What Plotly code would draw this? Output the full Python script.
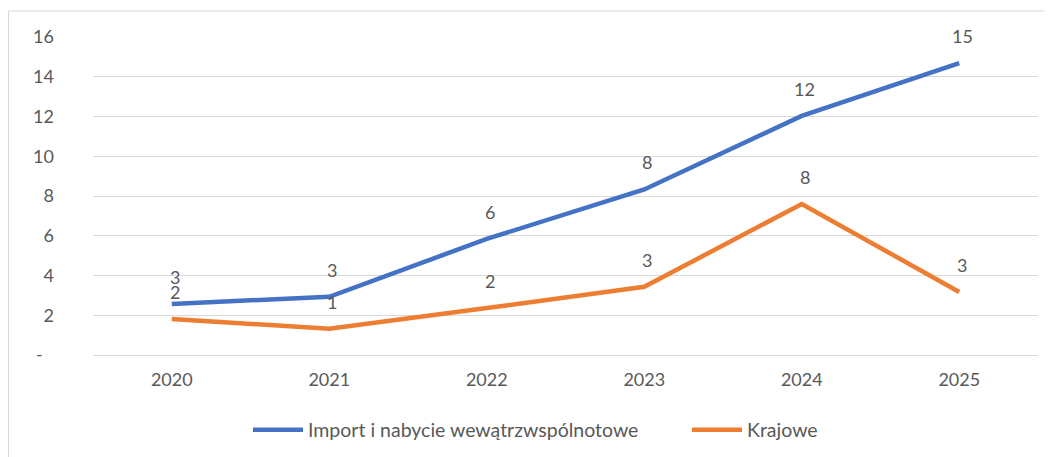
import plotly.graph_objects as go

years = ["2020", "2021", "2022", "2023", "2024", "2025"]
import_vals = [2.57, 2.93, 5.84, 8.33, 12.03, 14.69]
krajowe_vals = [1.81, 1.32, 2.36, 3.43, 7.6, 3.17]
y_tickvals = [0, 2, 4, 6, 8, 10, 12, 14, 16]
y_ticktext = ["-\u2002\u2009", "2", "4", "6", "8", "10", "12", "14", "16"]

BLUE = "#4472C4"
ORANGE = "#ED7D31"
TXT = "#595959"
GRID = "#D9D9D9"
FONT = "Lato, Open Sans, sans-serif"

OFF = 8  # default page body margin
W, H = 1052 - OFF, 457 - OFF
ml, mr, mt, mb = 93 - OFF, 14, 37 - OFF, 102
pw, ph = W - ml - mr, H - mt - mb


def xp(p):
    # page pixel -> paper x
    return (p - OFF - ml) / pw


def yp(p):
    # page pixel -> paper y
    return (mt + ph - (p - OFF)) / ph


fig = go.Figure()
fig.add_trace(go.Scatter(x=years, y=import_vals, mode="lines",
                         name="Import i nabycie wewątrzwspólnotowe",
                         line=dict(color=BLUE, width=4.5), legend="legend"))
fig.add_trace(go.Scatter(x=years, y=krajowe_vals, mode="lines",
                         name="Krajowe",
                         line=dict(color=ORANGE, width=4.5), legend="legend2"))

annotations = []
for vals in (import_vals, krajowe_vals):
    for i, v in enumerate(vals):
        annotations.append(dict(x=i, y=v, xref="x", yref="y", text=str(int(round(v))),
                                showarrow=False, yshift=27, xshift=3,
                                font=dict(family=FONT, size=18, color=TXT)))

legend_common = dict(orientation="h", yanchor="middle", y=yp(430), xanchor="left",
                     font=dict(family=FONT, size=19.5, color=TXT),
                     itemwidth=50, bgcolor="rgba(0,0,0,0)")

fig.update_layout(
    width=W, height=H,
    margin=dict(l=ml, r=mr, t=mt, b=mb, autoexpand=False),
    paper_bgcolor="white", plot_bgcolor="white",
    font=dict(family=FONT, size=18, color=TXT),
    xaxis=dict(type="category", range=[-0.5, 5.5], showgrid=False, showline=False,
               zeroline=False, ticks="", ticklabelstandoff=12, automargin=False,
               tickfont=dict(family=FONT, size=18, color=TXT)),
    yaxis=dict(range=[0, 16], tickvals=y_tickvals, ticktext=y_ticktext,
               showgrid=True, gridcolor=GRID, gridwidth=1, zeroline=True,
               zerolinecolor=GRID, zerolinewidth=1, showline=False, ticks="",
               ticklabelstandoff=38, automargin=False,
               tickfont=dict(family=FONT, size=18, color=TXT)),
    showlegend=True,
    legend=dict(legend_common, x=xp(248)),
    legend2=dict(legend_common, x=xp(687)),
    annotations=annotations,
    shapes=[dict(type="rect", xref="paper", yref="paper",
                 x0=xp(OFF + 0.5), x1=xp(1050), y0=yp(470), y1=yp(11),
                 line=dict(color=GRID, width=1), fillcolor="rgba(0,0,0,0)",
                 layer="below")],
)

fig.write_html("out.html")
